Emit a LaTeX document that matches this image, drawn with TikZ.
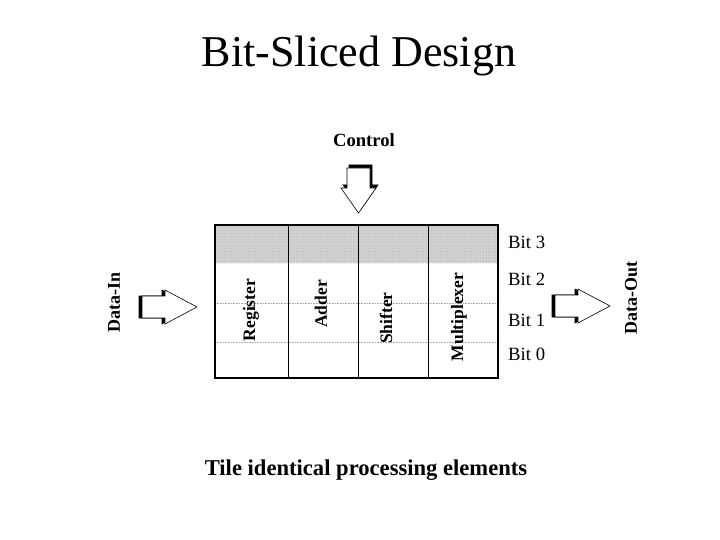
\documentclass[tikz,border=0pt]{standalone}
\usepackage{fontspec}
\setmainfont{Liberation Serif}
\usetikzlibrary{patterns}
\begin{document}
\begin{tikzpicture}[x=1pt,y=-1pt,
  lbl/.style={inner sep=0pt,font=\fontsize{18.7}{20}\selectfont},
  blbl/.style={inner sep=0pt,font=\bfseries\fontsize{18}{20}\selectfont},
  collbl/.style={inner sep=0pt,rotate=90,font=\bfseries\fontsize{17.5}{20}\selectfont},
  arrowbody/.style={draw=black,fill=white,line width=0.6pt,line join=miter},
  arrowshade/.style={fill=black,draw=black,line width=0.6pt},
  gridline/.style={draw=black,line width=0.8pt},
  bitline/.style={draw=gray!70,densely dotted,line width=0.6pt}]
\useasboundingbox (0,0) rectangle (720,540);
\fill[white] (0,0) rectangle (720,540);

% title
\node[inner sep=0pt,anchor=base,font=\fontsize{44}{48}\selectfont] (title) at (359,67) {Bit-Sliced Design};

% control label and arrow
\node[blbl,anchor=base,font=\bfseries\fontsize{18.6}{20}\selectfont] (control) at (364,147) {Control};
\begin{scope}[shift={(2,-3)}]
\path[arrowshade] (347,168)--(347,188)--(341,188)--(358.5,213)--(376,188)--(370,188)--(370,168)--cycle;
\end{scope}
\path[arrowbody] (347,168)--(347,188)--(341,188)--(358.5,213)--(376,188)--(370,188)--(370,168)--cycle;

% grid
\fill[gray!35] (215,225) rectangle (498,263);
\fill[pattern=dots,pattern color=gray!80] (215,225) rectangle (498,263);
\draw[bitline] (215,303) -- (498,303);
\draw[bitline] (215,342) -- (498,342);
\draw[gridline] (288,225) -- (288,378);
\draw[gridline] (358,225) -- (358,378);
\draw[gridline] (428,225) -- (428,378);
\node[draw=black,line width=1.3pt,inner sep=0pt,minimum width=283pt,minimum height=153pt] (grid) at (356.5,301.5) {};

% column labels
\node[collbl] (reg) at (251,310) {Register};
\node[collbl] (add) at (321,304) {Adder};
\node[collbl] (shf) at (386,318) {Shifter};
\node[collbl] (mux) at (459,317) {Multiplexer};

% bit labels
\node[lbl,anchor=base west] (b3) at (508,248) {Bit 3};
\node[lbl,anchor=base west] (b2) at (508,285) {Bit 2};
\node[lbl,anchor=base west] (b1) at (508,326) {Bit 1};
\node[lbl,anchor=base west] (b0) at (508,360) {Bit 0};

% data in
\node[collbl,font=\bfseries\fontsize{18}{20}\selectfont] (din) at (114,302) {Data-In};
\begin{scope}[shift={(-3,0)}]
\path[arrowshade] (142,296)--(165,296)--(165,290)--(197,307)--(165,324)--(165,318)--(142,318)--cycle;
\end{scope}
\path[arrowbody] (142,296)--(165,296)--(165,290)--(197,307)--(165,324)--(165,318)--(142,318)--cycle;

% data out
\begin{scope}[shift={(-3,0)}]
\path[arrowshade] (555,295)--(578,295)--(578,289)--(610,306)--(578,323)--(578,317)--(555,317)--cycle;
\end{scope}
\path[arrowbody] (555,295)--(578,295)--(578,289)--(610,306)--(578,323)--(578,317)--(555,317)--cycle;
\node[collbl,font=\bfseries\fontsize{18}{20}\selectfont] (dout) at (631,298) {Data-Out};

% caption
\node[inner sep=0pt,anchor=base,font=\bfseries\fontsize{22.6}{24}\selectfont] (caption) at (366,475) {Tile identical processing elements};
\end{tikzpicture}
\end{document}
